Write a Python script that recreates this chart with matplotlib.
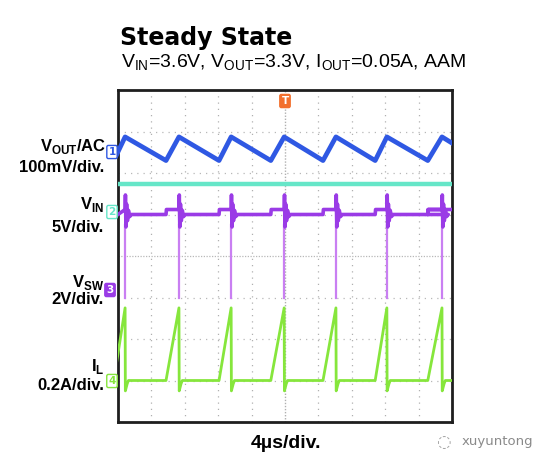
import matplotlib.pyplot as plt

plt.rcParams["mathtext.fontset"] = "custom"
plt.rcParams["mathtext.rm"] = "Liberation Sans"
plt.rcParams["mathtext.bf"] = "Liberation Sans:bold"

# scope capture, time in us (4 us/div, 10 div), vertical in divisions (0..8)
rise_t = [-0.5, 5.75, 12.1, 18.3, 24.55, 30.8, 37.1, 43.4]     # start of on-time
peak_t = [0.85, 7.3, 13.55, 19.9, 26.1, 32.2, 38.8]             # switch-off / current peak

vout_peak, vout_trough = 6.87, 6.30      # ch1 VOUT (AC) levels
teal_level = 5.73                        # flat trace above VIN
vin_base, vin_on = 5.0, 5.12             # ch2 VIN
ring_dt = [0, 0.04, 0.1, 0.18, 0.28, 0.4, 0.55, 0.75]
ring_v = [5.12, 5.47, 4.7, 5.25, 4.85, 5.1, 4.95, 5.0]
vsw_top, vsw_bottom = 4.75, 2.99         # ch3 VSW edges
il_base, il_peak, il_under = 1.0, 2.75, 0.75   # ch4 IL

blue = "#2f58e3"
teal = "#66e6c8"
purple = "#9a3be6"
violet = "#c97ff2"
green = "#86e63c"
orange = "#f2702e"

W, H = 544, 467
fig = plt.figure(figsize=(W / 100, H / 100), dpi=100)

def fx(x):
    return x / W

def fy(y):
    return 1 - y / H

ax = fig.add_axes([fx(118), fy(422), fx(452) - fx(118), fy(90) - fy(422)])
ax.set_xlim(0, 40)
ax.set_ylim(0, 8)
ax.set_xticks([])
ax.set_yticks([])
for s in ax.spines.values():
    s.set_linewidth(2.0)
    s.set_color("#1e1e1e")

# graticule
for k in range(1, 10):
    ls = (0, (1, 1.2)) if k == 5 else (0, (1, 4))
    ax.axvline(4 * k, color="#b0b0b0", lw=1.0 if k == 5 else 0.9, ls=ls, zorder=0)
for k in range(1, 8):
    ls = (0, (1, 1.2)) if k == 4 else (0, (1, 4))
    ax.axhline(k, color="#b8b8b8", lw=0.9, ls=ls, zorder=0)

# ch1 VOUT ripple
bt, bv = [], []
for i in range(len(peak_t)):
    bt += [rise_t[i], peak_t[i]]
    bv += [vout_trough, vout_peak]
bt.append(rise_t[-1])
bv.append(vout_trough)
ax.plot(bt, bv, color=blue, lw=3.4, solid_joinstyle="round", zorder=4)

# teal trace
ax.plot([0, 40], [teal_level, teal_level], color=teal, lw=3.2, zorder=3)

# ch2 VIN
vt, vv = [0], [vin_base]
for i in range(len(peak_t)):
    if rise_t[i] > 0:
        vt += [rise_t[i], rise_t[i] + 0.05]
        vv += [vin_base, vin_on]
    for dt, v in zip(ring_dt, ring_v):
        vt.append(peak_t[i] + dt)
        vv.append(v)
vt += [rise_t[-2], rise_t[-2] + 0.05, 40]
vv += [vin_base, vin_on, vin_on]
ax.plot(vt, vv, color=purple, lw=2.6, zorder=3)

# ch3 VSW edges
for t in peak_t:
    ax.plot([t, t], [vsw_bottom, vsw_top], color=violet, lw=1.6, zorder=2)

# ch4 IL
gt, gv = [], []
for i in range(len(peak_t)):
    gt += [rise_t[i], peak_t[i], peak_t[i] + 0.03, peak_t[i] + 0.25, peak_t[i] + 0.4]
    gv += [il_base, il_peak, il_under, il_base - 0.08, il_base]
gt.append(40)
gv.append(il_base)
ax.plot(gt, gv, color=green, lw=2.0, zorder=3)

# channel markers on the left edge
def marker(x, y, txt, col, filled=False):
    fig.text(fx(x), fy(y), txt, ha="center", va="center", fontsize=7.5,
             color="white" if filled else col, fontweight="bold",
             bbox=dict(boxstyle="round,pad=0.15", fc=col if filled else "white",
                       ec=col, lw=1.0))

marker(112, 152, "1", blue)
marker(112, 212, "2", teal)
marker(110, 290, "3", purple, filled=True)
marker(112, 381, "4", green)
marker(285, 101, "T", orange, filled=True)

# titles
fig.text(fx(120), fy(38), "Steady State", fontsize=17, fontweight="bold",
         family="DejaVu Sans", va="center", ha="left")
fig.text(fx(121), fy(63), r"V$_{\mathrm{IN}}$=3.6V, V$_{\mathrm{OUT}}$=3.3V, "
         r"I$_{\mathrm{OUT}}$=0.05A, AAM", fontsize=14, family="Liberation Sans",
         va="center", ha="left")

# channel labels
lab = dict(fontsize=12, fontweight="bold", family="Liberation Sans", ha="right", va="center")
fig.text(fx(106), fy(147), r"V$_{\mathbf{OUT}}$/AC", **lab)
fig.text(fx(104), fy(168), "100mV/div.", **lab)
fig.text(fx(104), fy(205), r"V$_{\mathbf{IN}}$", **lab)
fig.text(fx(104), fy(227), "5V/div.", **lab)
fig.text(fx(104), fy(282), r"V$_{\mathbf{SW}}$", **lab)
fig.text(fx(104), fy(300), "2V/div.", **lab)
fig.text(fx(104), fy(366), r"I$_{\mathbf{L}}$", **lab)
fig.text(fx(104), fy(386), "0.2A/div.", **lab)

fig.text(fx(286), fy(443), "4\u00b5s/div.", fontsize=14, fontweight="bold",
         family="Liberation Sans", ha="center", va="center")

# watermark
fig.text(fx(443), fy(442), "\u25cc", fontsize=12, color="#a0a0a0", ha="center", va="center")
fig.text(fx(462), fy(442), "xuyuntong", fontsize=9.5, color="#8a8a8a",
         family="DejaVu Sans", ha="left", va="center")

fig.savefig("out.png", dpi=100)
